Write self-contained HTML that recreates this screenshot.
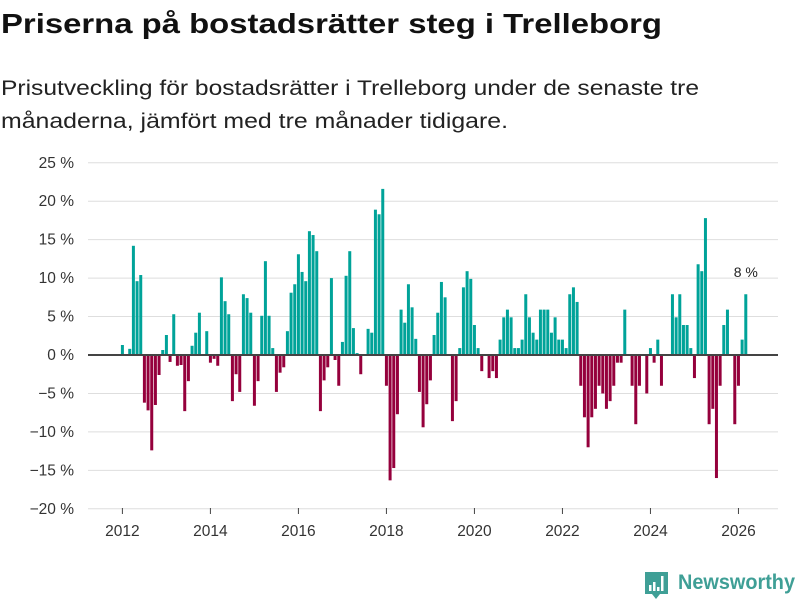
<!DOCTYPE html>
<html><head><meta charset="utf-8"><style>
body{margin:0;background:#fff;width:800px;height:600px;overflow:hidden;font-family:"Liberation Sans",sans-serif}
</style></head><body>
<svg id="chart" width="800" height="600" xmlns="http://www.w3.org/2000/svg" font-family="Liberation Sans, sans-serif">
<text x="1" y="33" font-size="28" font-weight="bold" fill="#111" textLength="661" lengthAdjust="spacingAndGlyphs">Priserna på bostadsrätter steg i Trelleborg</text>
<text x="1" y="95" font-size="21" fill="#222" textLength="698" lengthAdjust="spacingAndGlyphs">Prisutveckling för bostadsrätter i Trelleborg under de senaste tre</text>
<text x="1" y="128" font-size="21" fill="#222" textLength="507" lengthAdjust="spacingAndGlyphs">månaderna, jämfört med tre månader tidigare.</text>
<g id="grid"></g>
<g id="bars"></g>
<g id="xaxis"></g>
<g>
<path d="M645 572 h23 v22 h-8 l-4 5 l-4 -5 h-7 z" fill="#3f9f96"/>
<rect x="649" y="585" width="2.5" height="6" fill="#fff"/>
<rect x="653" y="582" width="2.5" height="9" fill="#fff"/>
<rect x="657" y="587" width="2.5" height="4" fill="#fff"/>
<rect x="661" y="576" width="2.5" height="15" fill="#fff"/>
<text x="678" y="589" font-size="21" font-weight="bold" fill="#3f9f96" textLength="117" lengthAdjust="spacingAndGlyphs">Newsworthy</text>
</g>
</svg>
<script>
const values = [
1.3,0,0.8,14.2,9.6,10.4,-6.2,-7.2,-12.4,-6.5,-2.6,0.65,
2.6,-0.9,5.3,-1.4,-1.3,-7.3,-3.4,1.2,2.9,5.5,0,3.1,
-1.0,-0.5,-1.4,10.1,7.0,5.3,-6.0,-2.5,-4.8,7.9,7.4,5.5,
-6.6,-3.4,5.1,12.2,5.1,0.9,-4.8,-2.3,-1.6,3.1,8.1,9.2,
13.1,10.8,9.6,16.1,15.6,13.5,-7.3,-3.3,-1.6,10.0,-0.65,-4.0,
1.7,10.3,13.5,3.5,0.25,-2.5,0,3.4,2.9,18.9,18.3,21.6,
-4.0,-16.3,-14.7,-7.7,5.9,4.2,9.2,6.2,2.1,-4.8,-9.4,-6.4,
-3.3,2.6,5.5,9.5,7.5,0,-8.6,-6.0,0.9,8.8,10.9,9.9,
3.9,0.9,-2.1,0,-3.0,-2.1,-3.0,2.0,4.9,5.9,4.9,0.9,
0.9,2.0,7.9,4.9,2.9,2.0,5.9,5.9,5.9,2.9,4.9,2.0,
2.0,0.9,7.9,8.8,6.9,-4.0,-8.1,-12.0,-8.1,-7.0,-4.0,-5.0,
-7.0,-6.0,-4.0,-1.0,-1.0,5.9,0,-4,-9,-4,0,-5,
0.9,-1,2.0,-4.0,0,0,7.9,4.9,7.9,3.9,3.9,0.9,
-3.0,11.8,10.9,17.8,-9,-7,-16,-4,3.9,5.9,0,-9,
-4,2.0,7.9
];
const startYear = 2012;
const yTicks = [25,20,15,10,5,0,-5,-10,-15,-20];
const xTickYears = [2012,2014,2016,2018,2020,2022,2024,2026];
const lastLabel = "8 %";

const NS = "http://www.w3.org/2000/svg";
function xPos(i){ return 122.4 + i*3.667; }
function yPos(v){ return 355 - v*7.69; }
function mk(tag, attrs, parent){ const e=document.createElementNS(NS,tag); for(const k in attrs) e.setAttribute(k,attrs[k]); parent.appendChild(e); return e; }

const grid=document.getElementById('grid');
yTicks.forEach(v=>{
  if(v!==0){
    const l=mk('line',{x1:88,x2:778,y1:yPos(v),y2:yPos(v),stroke:'#dedede','stroke-width':1},grid);
    
    
  }
  const t=mk('text',{x:74,y:yPos(v)+5,'font-size':15.5,'text-anchor':'end',fill:'#333'},grid);
  t.textContent=(v<0?'\u2212'+(-v):v)+' %';
  
  
});

const bars=document.getElementById('bars');
values.forEach((v,i)=>{
  if(v===0) return;
  const y0=yPos(0), y1=yPos(v);
  const r=mk('rect',{x:xPos(i)-1.5,y:Math.min(y0,y1),width:3,height:Math.abs(y1-y0),fill:v>0?'#00a399':'#95003c'},bars);
  
  
});
const zl=mk('line',{x1:88,x2:778,y1:yPos(0),y2:yPos(0),stroke:'#444','stroke-width':2},bars);



const li=values.length-1;
const lab=mk('text',{x:xPos(li),y:yPos(values[li])-17,'font-size':14,'text-anchor':'middle',fill:'#222'},bars);
lab.textContent=lastLabel;



const xa=document.getElementById('xaxis');
xTickYears.forEach(yr=>{
  const i=(yr-startYear)*12;
  const tk=mk('line',{x1:xPos(i),x2:xPos(i),y1:508,y2:514,stroke:'#444','stroke-width':1},xa);
  
  
  const t=mk('text',{x:xPos(i),y:536,'font-size':15.5,'text-anchor':'middle',fill:'#333'},xa);
  t.textContent=yr;
  
  
});
</script>
</body></html>
